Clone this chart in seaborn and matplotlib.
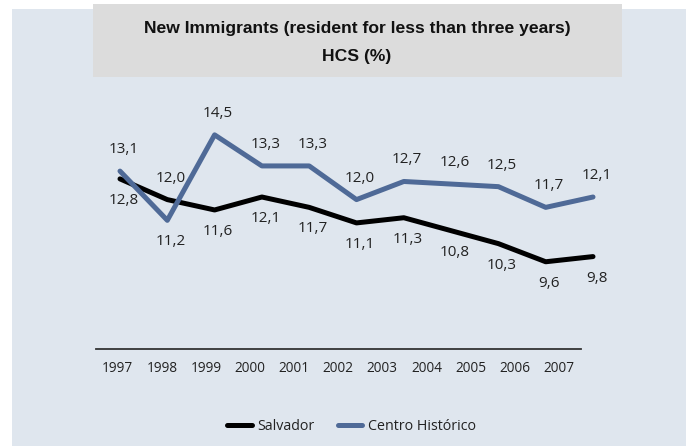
import matplotlib
matplotlib.use('Agg')
import matplotlib.pyplot as plt
from matplotlib.patches import Rectangle
import numpy as np
import pandas as pd
import seaborn as sns

# chart data
years = ['1997', '1998', '1999', '2000', '2001', '2002', '2003', '2004', '2005', '2006', '2007']
salvador = [12.8, 12.0, 11.6, 12.1, 11.7, 11.1, 11.3, 10.8, 10.3, 9.6, 9.8]
centro = [13.1, 11.2, 14.5, 13.3, 13.3, 12.0, 12.7, 12.6, 12.5, 11.7, 12.1]
series_names = ['Salvador', 'Centro Histórico']
title_lines = ['New Immigrants (resident for less than three years)', 'HCS (%)']

# which side of the line each value label sits on (1 above, -1 below)
salvador_side = [-1, 1, -1, -1, -1, -1, -1, -1, -1, -1, -1]
centro_side = [1, -1, 1, 1, 1, 1, 1, 1, 1, 1, 1]

W, H = 686, 446
panel_color = '#dfe6ee'
box_color = '#dcdcdc'
palette = {'Salvador': '#000000', 'Centro Histórico': '#4f6a97'}
text_color = '#222222'

sns.set_style('white')
plt.rcParams['font.family'] = ['Open Sans', 'DejaVu Sans']

df = pd.DataFrame({
    'pos': list(range(len(years))) * 2,
    'value': salvador + centro,
    'series': [series_names[0]] * len(years) + [series_names[1]] * len(years),
})

fig = plt.figure(figsize=(W / 100, H / 100), dpi=100)
fig.patch.set_facecolor('white')
fig.patches.append(Rectangle((12 / W, 0), 1 - 12 / W, 1 - 9 / H, transform=fig.transFigure,
                             facecolor=panel_color, edgecolor='none', zorder=-2))
fig.patches.append(Rectangle((93 / W, 1 - 77 / H), 529 / W, 73 / H, transform=fig.transFigure,
                             facecolor=box_color, edgecolor='none', zorder=-1))

# category axis (ticks at the boundaries, labels in between)
ax = fig.add_axes([95.7 / W, 1 - 349 / H, 485 / W, 0.3])
ax.set_facecolor('none')
ax.set_xlim(-0.5, len(years) - 0.5)
ax.set_xticks(np.arange(-0.5, len(years)))
ax.set_xticklabels([])
ax.set_xticks(np.arange(len(years)), minor=True)
ax.set_xticklabels(years, minor=True, fontsize=9.8, color=text_color)
ax.tick_params(axis='x', which='major', direction='out', length=4, width=1, color='#333333')
ax.tick_params(axis='x', which='minor', length=0, pad=9)
ax.set_yticks([])
for s in ['left', 'right', 'top']:
    ax.spines[s].set_visible(False)
ax.spines['bottom'].set_color('#333333')
ax.spines['bottom'].set_linewidth(1.3)

# lines
axl = fig.add_axes([(120 - 23.65) / W, 1 - 355 / H, 47.3 * len(years) / W, 259 / H])
axl.set_facecolor('none')
sns.lineplot(data=df, x='pos', y='value', hue='series', palette=palette,
             linewidth=3.6, ax=axl, legend=True)
axl.set_xlim(-0.5, len(years) - 0.5)
axl.set_ylim(6, 16)
axl.axis('off')
handles, labels = axl.get_legend_handles_labels()
axl.get_legend().remove()

for vals, sides in [(salvador, salvador_side), (centro, centro_side)]:
    for i, (v, s) in enumerate(zip(vals, sides)):
        axl.annotate(f'{v:.1f}'.replace('.', ','), (i, v), xytext=(2.5, s * 15.5),
                     textcoords='offset points', ha='center', va='center',
                     fontsize=11, color=text_color, annotation_clip=False)

leg = fig.legend(handles, labels, loc='center', bbox_to_anchor=(351.5 / W, 1 - 427 / H),
                 ncol=2, frameon=False, fontsize=10.3, handlelength=1.7,
                 handletextpad=0.4, columnspacing=1.6)
for t in leg.get_texts():
    t.set_color(text_color)
for h in leg.get_lines():
    h.set_linewidth(3.6)

title_font = ['Liberation Sans', 'DejaVu Sans']
fig.text(357 / W, 1 - 29 / H, title_lines[0], ha='center', va='center', fontsize=12.6,
         fontweight='bold', color='#111111', family=title_font)
fig.text(357 / W, 1 - 57 / H, title_lines[1], ha='center', va='center', fontsize=12.6,
         fontweight='bold', color='#111111', family=title_font)

fig.savefig('out.png', dpi=100)
